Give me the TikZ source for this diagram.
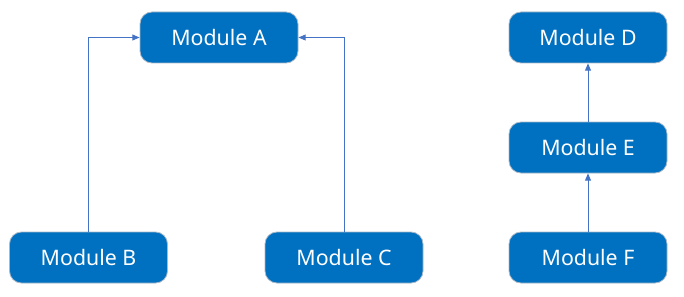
\documentclass[tikz,border=0pt]{standalone}
\usepackage{fontspec}
\setmainfont{Noto Sans}
\usetikzlibrary{positioning,arrows.meta}
\definecolor{modblue}{HTML}{0070C0}
\definecolor{modedge}{HTML}{A9B8C8}
\definecolor{linkblue}{HTML}{4472C4}

\begin{document}
\begin{tikzpicture}[x=0.75pt, y=-0.75pt, >={Triangle[length=5.5pt,width=4.5pt]}]
  \tikzset{module/.style={draw=modedge, line width=0.6pt, fill=modblue, rounded corners=9pt,
      minimum width=118.5pt, minimum height=38.25pt, inner sep=0pt,
      text=white, font=\fontsize{16}{19}\selectfont},
    link/.style={->, draw=linkblue, line width=0.75pt}}
  \useasboundingbox (0,0) rectangle (684,296);

  \node[module] (A) at (219,37.5) {Module A};
  \node[module] (B) at (88.5,257.5) {Module B};
  \node[module] (C) at (344,257.5) {Module C};

  \node[module] (D) at (588,37.5) {Module D};
  \node[module] (E) at (588,147.5) {Module E};
  \node[module] (F) at (588,257.5) {Module F};

  \draw[link] (B.north) |- (A.west);
  \draw[link] (C.north) |- (A.east);
  \draw[link] (E) -- (D);
  \draw[link] (F) -- (E);
\end{tikzpicture}
\end{document}
